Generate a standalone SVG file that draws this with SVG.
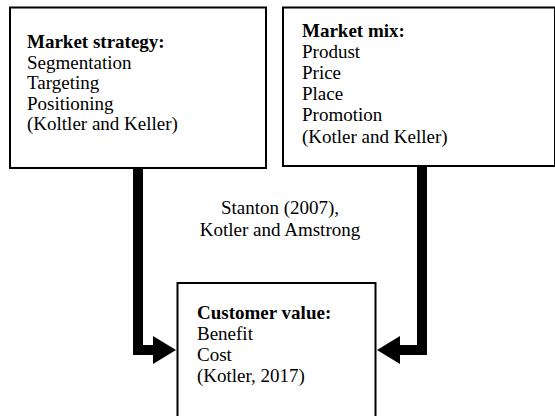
<svg xmlns="http://www.w3.org/2000/svg" width="555" height="416" viewBox="0 0 555 416">
<style>
.box{fill:#fff;stroke:#000;stroke-width:2}
.t{font-family:"Liberation Serif","Times New Roman",serif;font-size:19px;fill:#000}
.b{font-weight:bold}
.c{fill:none;stroke:#000;stroke-width:10;stroke-linejoin:miter}
</style>
<defs>
<marker id="ah" markerUnits="userSpaceOnUse" markerWidth="24" markerHeight="30" viewBox="0 0 24 30" refX="2" refY="14" orient="auto">
<path d="M0,0 L23,14 L0,28 z" fill="#000"/>
</marker>
</defs>
<rect width="555" height="416" fill="#fff"/>
<g id="connectors">
<path class="c" d="M138,168 V350 H155" marker-end="url(#ah)"/>
<path class="c" d="M422,166 V350 H398" marker-end="url(#ah)"/>
</g>
<g id="market-strategy">
<rect class="box" x="10" y="7.5" width="256" height="160.5"/>
<text class="t"><tspan class="b" x="27" y="48">Market strategy:</tspan><tspan x="27" y="68.5">Segmentation</tspan><tspan x="27" y="89">Targeting</tspan><tspan x="27" y="109.5">Positioning</tspan><tspan x="27" y="130">(Koltler and Keller)</tspan></text>
</g>
<g id="market-mix">
<rect class="box" x="283" y="7.5" width="272" height="158.5"/>
<text class="t"><tspan class="b" x="302" y="36.5">Market mix:</tspan><tspan x="302" y="57.7">Produst</tspan><tspan x="302" y="78.9">Price</tspan><tspan x="302" y="100.1">Place</tspan><tspan x="302" y="121.3">Promotion</tspan><tspan x="302" y="142.5">(Kotler and Keller)</tspan></text>
</g>
<g id="source-label">
<text class="t" text-anchor="middle"><tspan x="280" y="214">Stanton (2007),</tspan><tspan x="280" y="236">Kotler and Amstrong</tspan></text>
</g>
<g id="customer-value">
<rect class="box" x="177.5" y="283" width="198" height="150"/>
<text class="t"><tspan class="b" x="197" y="319">Customer value:</tspan><tspan x="197" y="340">Benefit</tspan><tspan x="197" y="361">Cost</tspan><tspan x="197" y="382">(Kotler, 2017)</tspan></text>
</g>
</svg>
